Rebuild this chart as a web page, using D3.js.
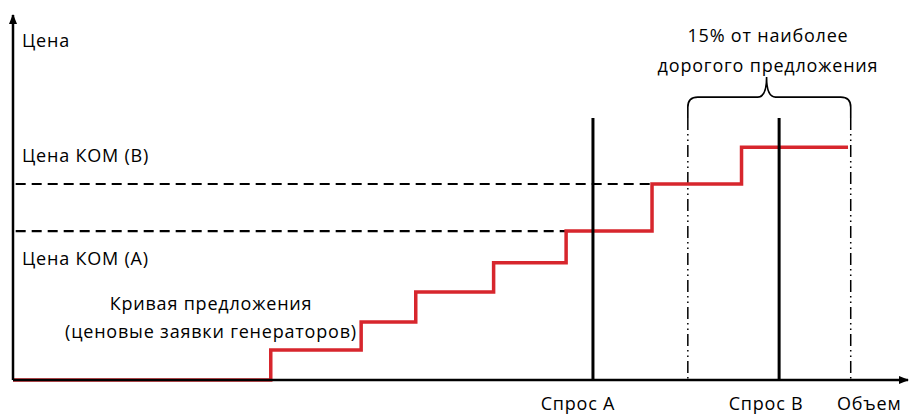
<!DOCTYPE html>
<html>
<head>
<meta charset="utf-8">
<script src="https://cdn.jsdelivr.net/npm/d3@7"></script>
<style>
  body { margin: 0; background: #fff; }
  text { font-family: "Open Sans", sans-serif; fill: #000; font-size: 18px; letter-spacing: 0.8px; }
</style>
</head>
<body>
<svg id="chart" width="910" height="414"></svg>
<script>
// supply curve steps (volume where each step starts, price of that step)
var stepStart = [0, 28.8, 38.9, 45.0, 53.7, 61.8, 71.4, 81.4]
var stepPrice = [0, 8.2, 15.9, 24.1, 32.1, 40.8, 53.7, 63.8]
var supplyEnd = 93.3

// demand lines
var demandNames = ["Спрос А", "Спрос В"]
var demandVolume = [64.8, 85.6]
var demandTop = 71.8

// capacity prices (dashed lines)
var comNames = ["Цена КОМ (А)", "Цена КОМ (В)"]
var comPrice = [40.8, 53.7]
var comEnd = [61.8, 71.4]

// 15% band
var bandEdges = [75.4, 93.6]

var svg = d3.select("#chart")

var x = d3.scaleLinear().domain([0, 100]).range([13, 908])
var y = d3.scaleLinear().domain([0, 100]).range([380, 15])

// arrow marker
var defs = svg.append("defs")
defs.append("marker").attr("id", "arr")
  .attr("viewBox", "0 0 10 10").attr("refX", 9).attr("refY", 5)
  .attr("markerWidth", 4).attr("markerHeight", 4)
  .attr("orient", "auto")
  .append("path").attr("d", "M0,1 L10,5 L0,9 Z").attr("fill", "#000")

// dashed capacity price lines
svg.selectAll(".com").data(comPrice).enter().append("line")
  .attr("x1", x(0.3)).attr("x2", (d, i) => x(comEnd[i]))
  .attr("y1", d => y(d)).attr("y2", d => y(d))
  .attr("stroke", "#000").attr("stroke-width", 2.2)
  .attr("stroke-dasharray", "10,6")

// band edges (dash-dot-dot)
svg.selectAll(".band").data(bandEdges).enter().append("line")
  .attr("x1", d => x(d)).attr("x2", d => x(d))
  .attr("y1", y(demandTop)).attr("y2", y(0))
  .attr("stroke", "#000").attr("stroke-width", 1.5)
  .attr("stroke-dasharray", "12,4,1.5,4,1.5,4")

// brace
var bx0 = x(bandEdges[0]), bx1 = x(bandEdges[1]), bm = x(84.2)
var by0 = y(demandTop), by1 = y(77.5), tip = y(83)
var r = 10
svg.append("path")
  .attr("d", "M" + bx0 + "," + by0 + " L" + bx0 + "," + (by1 + r) +
    " Q" + bx0 + "," + by1 + " " + (bx0 + r) + "," + by1 +
    " L" + (bm - 9) + "," + by1 +
    " Q" + bm + "," + by1 + " " + bm + "," + tip +
    " Q" + bm + "," + by1 + " " + (bm + 9) + "," + by1 +
    " L" + (bx1 - r) + "," + by1 +
    " Q" + bx1 + "," + by1 + " " + bx1 + "," + (by1 + r) +
    " L" + bx1 + "," + by0)
  .attr("fill", "none").attr("stroke", "#000").attr("stroke-width", 1.6)

// supply curve
var pts = []
stepStart.forEach(function(s, i) {
  var e = i < stepStart.length - 1 ? stepStart[i + 1] : supplyEnd
  pts.push([s, stepPrice[i]], [e, stepPrice[i]])
})
svg.append("path")
  .attr("d", d3.line().x(d => x(d[0])).y(d => y(d[1]))(pts))
  .attr("fill", "none").attr("stroke", "#d7262d").attr("stroke-width", 3.5)

// axes
svg.append("line").attr("x1", x(0)).attr("y1", y(0)).attr("x2", x(0)).attr("y2", y(100))
  .attr("stroke", "#000").attr("stroke-width", 2.5).attr("marker-end", "url(#arr)")
svg.append("line").attr("x1", x(0)).attr("y1", y(0)).attr("x2", x(100)).attr("y2", y(0))
  .attr("stroke", "#000").attr("stroke-width", 2.5).attr("marker-end", "url(#arr)")

// demand lines
svg.selectAll(".dem").data(demandVolume).enter().append("line")
  .attr("x1", d => x(d)).attr("x2", d => x(d))
  .attr("y1", y(demandTop)).attr("y2", y(0))
  .attr("stroke", "#000").attr("stroke-width", 3)

// labels
svg.selectAll(".demtxt").data(demandNames).enter().append("text")
  .attr("x", (d, i) => x(demandVolume[i]) - (i == 0 ? 15 : 13)).attr("y", 410)
  .attr("text-anchor", "middle").text(d => d)

svg.append("text").attr("x", 837).attr("y", 410).text("Объем")
svg.append("text").attr("x", 22).attr("y", 47).text("Цена")

svg.selectAll(".comtxt").data(comNames).enter().append("text")
  .attr("x", 22).attr("y", (d, i) => i == 0 ? 265 : 162).text(d => d)

svg.append("text").attr("x", 211).attr("y", 310).attr("text-anchor", "middle")
  .text("Кривая предложения")
svg.append("text").attr("x", 211).attr("y", 338).attr("text-anchor", "middle")
  .text("(ценовые заявки генераторов)")

svg.append("text").attr("x", 768).attr("y", 42).attr("text-anchor", "middle")
  .text("15% от наиболее")
svg.append("text").attr("x", 768).attr("y", 72).attr("text-anchor", "middle")
  .text("дорогого предложения")
</script>
</body>
</html>
